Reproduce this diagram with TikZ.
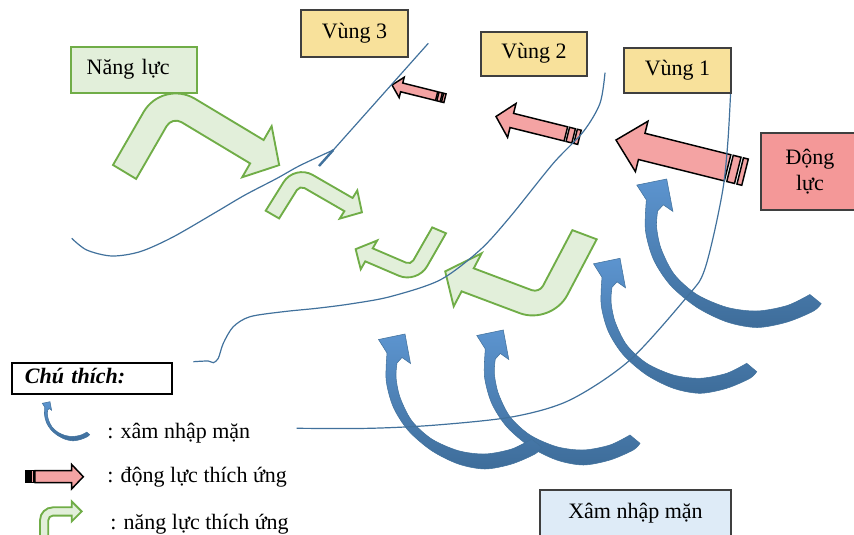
\documentclass[tikz,border=0pt]{standalone}
\usepackage{fontspec}
\setmainfont{Liberation Serif}
\definecolor{yellowfill}{HTML}{F8E19B}
\definecolor{boxline}{HTML}{3F3F3F}
\definecolor{greenfill}{HTML}{E2EFDA}
\definecolor{greenline}{HTML}{70AD47}
\definecolor{pinkbox}{HTML}{F49898}
\definecolor{arrowpink}{HTML}{F4A3A3}
\definecolor{bluebox}{HTML}{DEEBF7}
\definecolor{linecol}{HTML}{41719C}
\definecolor{blueA}{HTML}{5C94CF}
\definecolor{blueB}{HTML}{3E6D9A}
% bent (green) arrow: #1 base corner, #2 angle of leg 2, #3 angle of leg 1, #4 thickness,
% #5 height, #6 head base, #7 tip, #8 head half width, #9 outer radius
\newcommand\bentarrow[9]{%
  \pgfmathsetmacro\ba{cos(#2)}\pgfmathsetmacro\bb{sin(#2)}%
  \pgfmathsetmacro\bc{cos(#3)}\pgfmathsetmacro\bd{sin(#3)}%
  \pgfmathsetmacro\bri{#9-#4}%
  \pgfmathsetmacro\bmid{#5-#4/2}%
  \begin{scope}[shift={#1}, cm={\ba,\bb,\bc,\bd,(0,0)}, x=0.75pt, y=0.75pt]
    \draw[greenarrow] (0,0) -- (0,#5-#9) arc[start angle=180,end angle=90,radius=#9]
      -- (#6,#5) -- (#6,\bmid+#8) -- (#7,\bmid) -- (#6,\bmid-#8) -- (#6,#5-#4)
      -- (#4+\bri,#5-#4) arc[start angle=90,end angle=180,radius=\bri] -- (#4,0) -- cycle;
  \end{scope}}
% curved (blue) arrow: #1 tip, #2 xscale, #3 yscale
\newcommand\bluearrow[3]{%
  \begin{scope}[shift={#1}, xscale=#2, yscale=#3]
    \path[bluearrowstyle] (0,0) -- (-26.5,5.5) -- (-18,19)
      -- plot[smooth] coordinates {(-18,19) (-18.8,46.7) (-11.6,73.3) (3.4,96.7) (26.7,116.7) (53.4,130) (80,135) (106.7,130) (130,120) (136.7,113.3)}
      -- (126.7,105)
      -- plot[smooth] coordinates {(126.7,105) (106.7,115) (80,120) (53.4,116.7) (26.7,105) (6.7,86.7) (-5,63.3) (-9,43.3) (-8,29)}
      -- (-3,23.5) -- (5.5,29.5) -- cycle;
  \end{scope}}
% striped (red) arrow: #1 tip, #2 angle, #3 body length, #4 half width, #5 head half width,
% #6 head length, #7 gap, #8 inner stripe, #9 outer stripe
\newcommand\redarrow[9]{%
  \begin{scope}[shift={#1}, rotate=#2]
    \draw[redstyle] (0,0) -- (#6,-#5) -- (#6,-#4) -- (#3,-#4) -- (#3,#4) -- (#6,#4) -- (#6,#5) -- cycle;
    \draw[redstyle] (#3+#7,-#4) rectangle (#3+#7+#8,#4);
    \draw[redstyle] (#3+2*#7+#8,-#4) rectangle (#3+2*#7+#8+#9,#4);
  \end{scope}}
\begin{document}
\begin{tikzpicture}[x=0.75pt,y=-0.75pt,
  txt/.style={font=\fontsize{16.5}{19.5}\selectfont},
  box/.style={txt, draw=boxline, line width=0.8pt, inner sep=0pt},
  oneline/.style={text height=11pt, text depth=3.5pt},
  zone/.style={box, oneline, fill=yellowfill, minimum width=80pt, minimum height=34pt},
  greenarrow/.style={fill=greenfill, draw=greenline, line width=1.4pt, line join=miter},
  redstyle/.style={fill=arrowpink, draw=black, line width=1.1pt, line join=miter},
  bluearrowstyle/.style={top color=blueA, bottom color=blueB, draw=linecol, line width=0.4pt},
  thinline/.style={draw=linecol, line width=0.9pt},
  legendtext/.style={txt, anchor=base west, inner sep=0pt}]
\useasboundingbox (0,0) rectangle (854,535);
\clip (0,0) rectangle (854,535);

% green arrows (adaptive capacity)
\bentarrow{(113,165)}{-31}{60}{27}{99}{118}{144}{29.5}{38}
\bentarrow{(265.7,210.7)}{-30}{58}{15.5}{54.5}{67}{82.5}{16.6}{21}
\bentarrow{(446,233.3)}{156.8}{240.2}{15}{58}{56.5}{71}{16.6}{20}
\bentarrow{(596.7,239.3)}{159.4}{242.2}{26}{97}{96}{120}{30}{34}

% blue arrows (salt intrusion)
\bluearrow{(503.3,330)}{1}{1}
\bluearrow{(405,334)}{1}{1}
\bluearrow{(620,258.3)}{1}{1}
\bluearrow{(666.7,179)}{1.13}{1.1}

% red arrows (driving force)
\redarrow{(616,140)}{-14}{115}{13.5}{26}{26.5}{2.5}{8}{5}
\redarrow{(496,116.5)}{-14}{72}{7.3}{17.5}{16.3}{2}{6}{4}
\redarrow{(392,85)}{-14}{46}{4.5}{10.5}{10}{1.3}{3.5}{2.5}

% zone boundaries
\draw[thinline] plot[smooth] coordinates {(71.7,238.3) (86.7,250) (111.7,256) (140,251.7) (173,237) (216.7,211.7) (245,195) (276.7,178.5) (300,165.5) (333.3,150)};
\draw[thinline] (428.3,43.3) -- (333.3,150);
\draw[draw=linecol, line width=1.8pt] (333.3,150) -- (319,166);
\draw[thinline] plot[smooth] coordinates {(193.3,361.7) (208.3,361) (213.3,362.7) (218.3,358.3) (223.3,343.3) (233.3,326.7) (250,316.7) (283.3,311.7) (316.7,308.3) (350,304) (390,296.7) (440,280) (480,250) (510,217) (553.3,163.3) (583.3,131.7) (600,103.3) (605,72.7)};
\draw[thinline] plot[smooth] coordinates {(296.7,428.3) (370,428.3) (436.7,425) (513.3,416.7) (570,400) (630,360) (690,293.3) (703.3,273.3) (713.3,236.7) (723.3,186.7) (728,140) (731,85)};

% boxes
\node[zone, minimum width=80.25pt, minimum height=35.25pt] (z3) at (354.5,33.5) {Vùng 3};
\node[zone, minimum width=79.5pt, minimum height=33pt] (z2) at (534,54) {Vùng 2};
\node[zone, minimum width=80.25pt, minimum height=33.75pt] (z1) at (677.5,70.5) {Vùng 1};
\node[box, oneline, fill=greenfill, draw=greenline, line width=1.4pt, minimum width=94.5pt, minimum height=34.5pt, inner xsep=11.8pt, text width=70.9pt, align=left] (nl) at (134,70) {Năng lực};
\node[box, fill=pinkbox, minimum width=73.5pt, minimum height=57.75pt, align=center] (dl) at (810,171.5) {Động\\lực};
\node[box, oneline, draw=black, fill=white, line width=1pt, minimum width=120pt, minimum height=23.25pt, inner xsep=9.75pt, text width=100.5pt, align=left] (ct) at (92,378.5) {\textbf{\textit{Chú thích:}}};
\node[box, oneline, fill=bluebox, minimum width=143.25pt, minimum height=34.5pt] (xnm) at (635.5,513) {Xâm nhập mặn};

% legend
\bluearrow{(50,401.7)}{0.29}{0.29}
\node[legendtext] (l1) at (107,438.5) {: xâm nhập mặn};
\redarrow{(83.3,476.7)}{180}{48.3}{6}{12.3}{11.7}{0.8}{2.5}{5}
\fill[black] (25.9,470.7) rectangle (30.9,482.7);
\node[legendtext] (l2) at (107,482) {: động lực thích ứng};
\bentarrow{(40,540)}{0}{90}{8.3}{32.7}{31.7}{41.7}{10}{13}
\node[legendtext] (l3) at (110,529) {: năng lực thích ứng};
\end{tikzpicture}
\end{document}
